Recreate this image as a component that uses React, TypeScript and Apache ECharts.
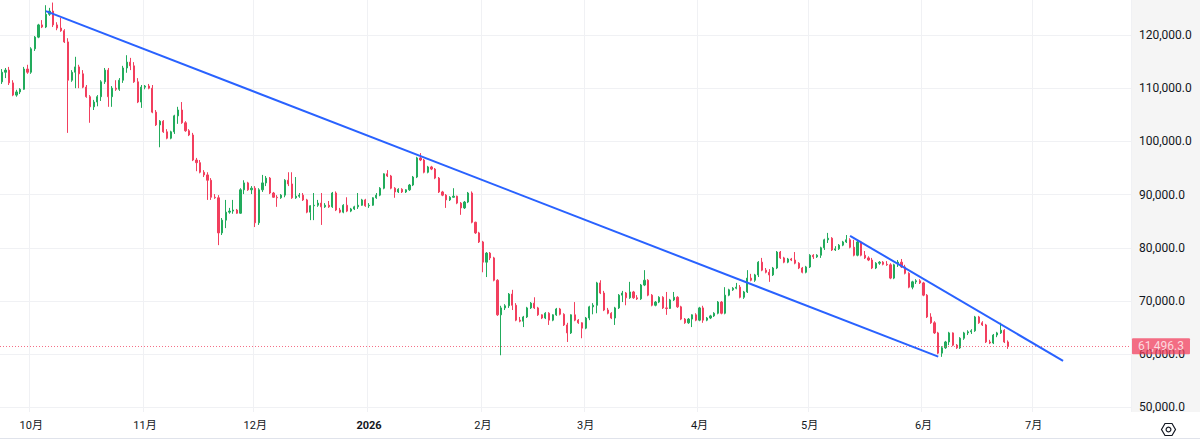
import React, { useEffect, useRef } from 'react';
import * as echarts from 'echarts';

// Daily BTC candles, first session 2025-09-23
const firstDay = '2025-09-23';
const axisDays = 308;

const opens = [
  111200, 113000, 113400, 111000, 108700, 109300, 109800, 113600, 113000, 117400,
  119600, 121900, 121500, 123900, 124500, 121900, 121300, 120800, 118700, 111500,
  113000, 114000, 112700, 110200, 108400, 106500, 107400, 108400, 111200, 113400,
  108400, 110000, 109800, 111500, 113800, 114900, 114200, 111200, 107400, 110200,
  110400, 110000, 105500, 103100, 103800, 101800, 100600, 101800, 104800, 105900,
  103500, 102000, 101200, 96500, 96000, 94200, 93700, 92700, 89500, 89400,
  82800, 85200, 86700, 86900, 87100, 86500, 90900, 92200, 90900, 91200,
  84700, 90900, 92200, 93100, 90300, 89500, 89400, 89900, 92700, 92000,
  89400, 89700, 89900, 89000, 86700, 87900, 88000, 88400, 87700, 88000,
  87700, 90300, 87100, 86700, 88000, 86900, 87300, 87700, 88000, 89000,
  87900, 88000, 89400, 89900, 91200, 93900, 93500, 91200, 90500, 91000,
  90500, 90900, 91800, 93300, 96900, 96500, 94200, 95200, 94800, 93100,
  90500, 89900, 89000, 89500, 89700, 88400, 87500, 88600, 90300, 84800,
  82800, 81100, 77300, 79000, 78100, 73900, 67400, 68700, 69100, 71300,
  69200, 66400, 66200, 67000, 68700, 69600, 68700, 67400, 66800, 67700,
  66400, 67400, 68500, 67500, 65500, 64000, 67400, 66400, 65900, 64900,
  66800, 68900, 69200, 73400, 71500, 68300, 67700, 66800, 68700, 71100,
  71500, 70600, 71700, 70600, 70400, 73000, 73900, 71100, 69200, 69800,
  70700, 68700, 68600, 70200, 70700, 68900, 66600, 65900, 66600, 67400,
  66400, 68700, 66400, 66800, 67200, 67700, 69800, 67700, 71100, 72100,
  72400, 72600, 70700, 71700, 74300, 73900, 74900, 77300, 75800, 75400,
  74900, 76200, 79200, 78100, 77300, 77900, 77700, 77100, 76200, 75400,
  76400, 78600, 78300, 78600, 80000, 81500, 81800, 79600, 79800, 80500,
  81100, 81500, 80100, 78600, 81100, 78600, 78100, 77700, 76200, 77100,
  77300, 76900, 76800, 74300, 76800, 77300, 76400, 75200, 72600, 73600,
  73800, 73400, 71100, 67000, 65900, 64000, 60200, 61200, 62300, 64000,
  61700, 61200, 63000, 64000, 64200, 64400, 67000, 65900, 65500, 62300,
  62100, 63600, 64000, 64500, 62300,
];

const closes = [
  113000, 113400, 111000, 108700, 109300, 109800, 113600, 113000, 117400, 119600,
  121900, 121500, 123900, 124500, 121900, 121300, 120800, 118700, 111500, 113000,
  114000, 112700, 110200, 108400, 106500, 107400, 108400, 111200, 113400, 108400,
  110000, 109800, 111500, 113800, 114900, 114200, 111200, 107400, 110200, 110400,
  110000, 105500, 103100, 103800, 101800, 100600, 101800, 104800, 105900, 103500,
  102000, 101200, 96500, 96000, 94200, 93700, 92700, 89500, 89400, 82800,
  85200, 86700, 86900, 87100, 86500, 90900, 92200, 90900, 91200, 84700,
  90900, 92200, 93100, 90300, 89500, 89400, 89900, 92700, 92000, 89400,
  89700, 89900, 89000, 86700, 87900, 88000, 88400, 87700, 88000, 87700,
  90300, 87100, 86700, 88000, 86900, 87300, 87700, 88000, 89000, 87900,
  88000, 89400, 89900, 91200, 93900, 93500, 91200, 90500, 91000, 90500,
  90900, 91800, 93300, 96900, 96500, 94200, 95200, 94800, 93100, 90500,
  89900, 89000, 89500, 89700, 88400, 87500, 88600, 90300, 84800, 82800,
  81100, 77300, 79000, 78100, 73900, 67400, 68700, 69100, 71300, 69200,
  66400, 66200, 67000, 68700, 69600, 68700, 67400, 66800, 67700, 66400,
  67400, 68500, 67500, 65500, 64000, 67400, 66400, 65900, 64900, 66800,
  68900, 69200, 73400, 71500, 68300, 67700, 66800, 68700, 71100, 71500,
  70600, 71700, 70600, 70400, 73000, 73900, 71100, 69200, 69800, 70700,
  68700, 68600, 70200, 70700, 68900, 66600, 65900, 66600, 67400, 66400,
  68700, 66400, 66800, 67200, 67700, 69800, 67700, 71100, 72100, 72400,
  72600, 70700, 71700, 74300, 73900, 74900, 77300, 75800, 75400, 74900,
  76200, 79200, 78100, 77300, 77900, 77700, 77100, 76200, 75400, 76400,
  78600, 78300, 78600, 80000, 81500, 81800, 79600, 79800, 80500, 81100,
  81500, 80100, 78600, 81100, 78600, 78100, 77700, 76200, 77100, 77300,
  76900, 76800, 74300, 76800, 77300, 76400, 75200, 72600, 73600, 73800,
  73400, 71100, 67000, 65900, 64000, 60200, 61200, 62300, 64000, 61700,
  61200, 63000, 64000, 64200, 64400, 67000, 65900, 65500, 62300, 62100,
  63600, 64000, 64500, 62300, 61496.3,
];

const lows = [
  110800, 111900, 110600, 108500, 108400, 108900, 109700, 112700, 112700, 117000,
  119400, 121300, 121300, 123600, 121500, 120900, 120600, 118500, 101600, 111200,
  110000, 110000, 110000, 108200, 103500, 105900, 106600, 107600, 110800, 106500,
  106500, 109500, 109500, 111000, 112900, 113400, 111000, 107200, 106300, 109800,
  109800, 105300, 102900, 98900, 101600, 100400, 100400, 101400, 103300, 103300,
  101800, 101000, 96300, 94400, 94000, 93300, 89000, 89000, 89200, 80500,
  82400, 83700, 86400, 86400, 86400, 86400, 90100, 90700, 90100, 83900,
  84300, 90500, 91600, 90100, 89400, 87700, 89200, 89500, 91600, 89200,
  89200, 89400, 88800, 86500, 85200, 85200, 87700, 84300, 87500, 87500,
  87500, 86900, 86500, 86500, 86700, 86700, 87100, 87300, 87900, 87700,
  87500, 87900, 89200, 89700, 91000, 93300, 91000, 89400, 90300, 90300,
  90300, 90700, 91600, 93100, 96300, 94000, 94000, 94600, 92900, 90300,
  89700, 87500, 88800, 89400, 88200, 86200, 87300, 88400, 84600, 82600,
  80900, 75400, 74500, 77700, 73700, 67200, 59800, 68300, 68700, 68300,
  66200, 66000, 65100, 66800, 68500, 68500, 67200, 66600, 66600, 65500,
  66200, 67200, 67300, 65300, 62300, 63800, 66200, 65700, 63000, 64700,
  66400, 67500, 67700, 71300, 68100, 67500, 66600, 65500, 68500, 69800,
  69200, 70400, 70400, 70200, 70200, 72800, 70900, 69000, 69000, 69600,
  68500, 67400, 68500, 70000, 68700, 66400, 65700, 65700, 65100, 66200,
  66200, 65900, 66200, 66600, 67000, 67500, 67500, 67500, 70900, 71900,
  72200, 70500, 70400, 71500, 73700, 73600, 74500, 75600, 75200, 73600,
  74700, 76000, 77900, 77100, 77100, 77500, 76900, 76000, 75200, 75200,
  76200, 77900, 78100, 78100, 79600, 80900, 79400, 79400, 79600, 80300,
  80900, 79900, 78400, 78400, 78400, 77900, 77500, 76000, 76000, 76800,
  76700, 76600, 74100, 74100, 76400, 76200, 75000, 72400, 72200, 73200,
  73200, 70900, 66800, 65700, 63800, 60000, 59500, 61000, 61700, 61500,
  61000, 61000, 62700, 63600, 63800, 64200, 65700, 65300, 62100, 61900,
  61900, 63200, 63800, 62100, 61000,
];

const highs = [
  113600, 113800, 114000, 111500, 109700, 110000, 114000, 114400, 117700, 119800,
  122100, 122800, 125600, 125100, 126100, 122400, 123200, 121100, 119400, 113400,
  115900, 114400, 113400, 110600, 108700, 107800, 108700, 111500, 113800, 113800,
  110400, 111500, 111900, 114200, 116200, 115700, 114900, 111900, 110600, 110600,
  110800, 110600, 105900, 104000, 104000, 102300, 102000, 105000, 106500, 107400,
  103800, 102300, 101600, 96900, 96500, 94600, 94200, 93100, 90100, 89900,
  85600, 89000, 87500, 89000, 87300, 91200, 92700, 92400, 91600, 91600,
  91200, 93700, 93500, 93300, 90500, 89900, 90100, 92900, 94200, 94200,
  93300, 90300, 90300, 89200, 88000, 90300, 89000, 90300, 88400, 88800,
  90500, 90600, 87500, 88200, 89500, 87500, 87900, 90300, 89200, 89200,
  88400, 89500, 90300, 91400, 94000, 94600, 93700, 91400, 91200, 91200,
  91000, 92000, 93500, 97100, 97800, 96700, 95400, 95400, 95000, 93300,
  90700, 90100, 89700, 91200, 89800, 88600, 88800, 90500, 90600, 84900,
  83000, 81300, 79200, 79200, 78300, 74100, 69100, 69400, 71500, 72100,
  69600, 67000, 67200, 68900, 69800, 70700, 68900, 67500, 67900, 67900,
  67500, 68700, 68700, 67700, 65900, 67500, 69800, 66600, 66000, 67000,
  69100, 69600, 73600, 73900, 71900, 68700, 67900, 68900, 71300, 71900,
  71700, 73600, 71900, 71100, 73200, 75800, 74100, 71300, 70000, 70900,
  70900, 71700, 70400, 71700, 70900, 69100, 66800, 66800, 67500, 67700,
  68900, 69100, 67000, 67400, 67900, 70000, 70000, 72600, 72300, 72600,
  73400, 73000, 71900, 75800, 75100, 75100, 77500, 78100, 76200, 76000,
  76400, 79400, 79400, 78300, 78100, 78100, 79200, 77300, 76400, 76600,
  78800, 78800, 78800, 80200, 81700, 82800, 82000, 80300, 80700, 81300,
  82400, 81800, 81500, 81300, 81300, 79400, 78400, 78100, 77300, 77500,
  77500, 77500, 77100, 77000, 77700, 77900, 76800, 75400, 73800, 74100,
  74100, 73600, 71300, 67700, 66200, 64200, 61500, 62500, 64200, 64100,
  61900, 63200, 64200, 64500, 64700, 67200, 67200, 66200, 65700, 62700,
  63800, 64200, 65900, 64700, 62600,
];

const priceTicks = [50000, 60000, 70000, 80000, 90000, 100000, 110000, 120000];
const lastPrice = 61496.3;

// Hand-drawn trend lines: [date, price] anchors
const upperTrend = [
  ['2025-10-05', 124500],
  ['2026-06-05', 59540],
];
const lowerTrend = [
  ['2026-05-12', 82250],
  ['2026-07-09', 58750],
];

const UP = '#22ab5c';
const DOWN = '#f23f5e';
const TREND = '#2962ff';
const GRID = '#f0f1f4';
const TEXT = '#131722';
const FONT = "Roboto, 'Noto Sans CJK SC', sans-serif";

function buildDays(start: string, count: number): string[] {
  const [y, m, d] = start.split('-').map(Number);
  const t0 = Date.UTC(y, m - 1, d);
  const out: string[] = [];
  for (let i = 0; i < count; i++) {
    out.push(new Date(t0 + i * 86400000).toISOString().slice(0, 10));
  }
  return out;
}

const fmtPrice = (v: number) =>
  v.toLocaleString('en-US', { minimumFractionDigits: 1, maximumFractionDigits: 1 });

export default function App() {
  const ref = useRef<HTMLDivElement>(null);

  useEffect(() => {
    if (!ref.current) return;
    const chart = echarts.init(ref.current, undefined, { renderer: 'svg' });
    const days = buildDays(firstDay, axisDays);
    const candles = opens.map((o, i) => [o, closes[i], lows[i], highs[i]]);
    const isMonthStart = (_i: number, v: string) => v.slice(8) === '01';

    chart.setOption({
      animation: false,
      backgroundColor: '#ffffff',
      grid: { left: 0, right: 69, top: 0, bottom: 29, containLabel: false },
      xAxis: {
        type: 'category',
        data: days,
        boundaryGap: true,
        axisLine: { show: false },
        axisTick: { show: false },
        axisLabel: {
          interval: isMonthStart,
          margin: 8,
          color: TEXT,
          fontSize: 11,
          fontFamily: FONT,
          formatter: (v: string) => {
            const m = Number(v.slice(5, 7));
            return m === 1 ? `{yr|${v.slice(0, 4)}}` : `${m}月`;
          },
          rich: {
            yr: { fontWeight: 'bold', fontSize: 11, color: TEXT, fontFamily: FONT },
          },
        },
        splitLine: {
          show: true,
          interval: isMonthStart,
          lineStyle: { color: GRID, width: 1 },
        },
      },
      yAxis: {
        type: 'value',
        position: 'right',
        min: 49135,
        max: 126579,
        axisLine: { show: false },
        axisTick: { show: false },
        splitLine: { show: false },
        axisLabel: {
          customValues: priceTicks,
          formatter: (v: number) => fmtPrice(v),
          color: TEXT,
          fontSize: 12,
          fontFamily: FONT,
          margin: 8,
        },
      },
      series: [
        {
          type: 'candlestick',
          data: candles,
          barWidth: '45%',
          z: 3,
          itemStyle: {
            color: UP,
            color0: DOWN,
            borderColor: UP,
            borderColor0: DOWN,
            borderWidth: 1,
          },
          markLine: {
            silent: true,
            z: 1,
            symbol: ['none', 'none'],
            label: { show: false },
            lineStyle: { color: GRID, width: 1, type: 'solid' },
            data: priceTicks.map((v) => ({ yAxis: v })),
          },
        },
        {
          type: 'line',
          data: upperTrend,
          symbol: 'none',
          silent: true,
          clip: false,
          z: 5,
          lineStyle: { color: TREND, width: 2 },
          markLine: {
            silent: true,
            z: 4,
            symbol: ['none', 'none'],
            data: [
              {
                yAxis: lastPrice,
                lineStyle: { color: DOWN, width: 1, type: [1, 2], opacity: 0.75 },
                label: {
                  show: true,
                  position: 'end',
                  distance: 1,
                  formatter: fmtPrice(lastPrice),
                  color: '#ffffff',
                  backgroundColor: DOWN,
                  fontSize: 12,
                  lineHeight: 14,
                  fontFamily: FONT,
                  padding: [1, 6, 1, 6],
                  borderRadius: 1,
                },
              },
            ],
          },
        },
        {
          type: 'line',
          data: lowerTrend,
          symbol: 'none',
          silent: true,
          z: 5,
          lineStyle: { color: TREND, width: 2 },
        },
      ],
      graphic: [
        {
          type: 'rect',
          right: 0,
          top: 0,
          z: -1,
          silent: true,
          shape: { width: 69, height: 412 },
          style: { fill: '#f5f5f5' },
        },
        {
          type: 'rect',
          left: 0,
          bottom: 2,
          silent: true,
          shape: { width: 1200, height: 1 },
          style: { fill: '#e0e3eb' },
        },
        {
          type: 'group',
          left: 1159,
          top: 421,
          silent: true,
          children: [
            {
              type: 'polygon',
              shape: { points: [[0, 6], [3.5, 0], [10.5, 0], [14, 6], [10.5, 12], [3.5, 12]] },
              style: { fill: 'none', stroke: TEXT, lineWidth: 1.2 },
            },
            {
              type: 'circle',
              shape: { cx: 7, cy: 6, r: 2.4 },
              style: { fill: 'none', stroke: TEXT, lineWidth: 1.2 },
            },
          ],
        },
      ],
    });

    return () => chart.dispose();
  }, []);

  return (
    <div
      ref={ref}
      style={{ position: 'fixed', left: 0, top: 0, width: 1200, height: 441, background: '#fff' }}
    />
  );
}
